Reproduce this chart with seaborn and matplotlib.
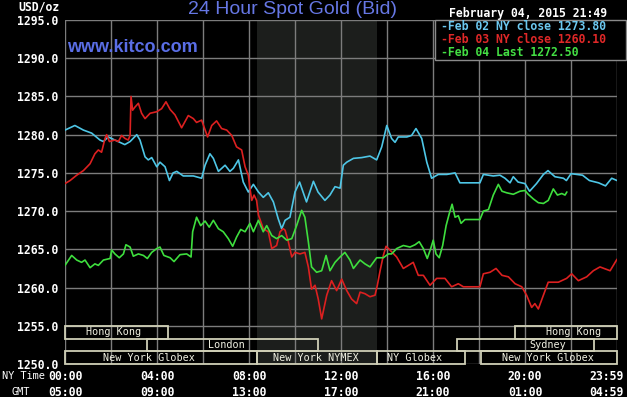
import matplotlib
matplotlib.use("Agg")
import matplotlib.pyplot as plt
import seaborn as sns
from matplotlib.patches import Rectangle
from matplotlib.transforms import blended_transform_factory

# ---------------------------------------------------------------------------
# Data (hours since 00:00 NY time)
# ---------------------------------------------------------------------------
FEB02_HOURS = [0.0, 0.43, 0.8, 1.16, 1.52, 1.67, 1.88, 2.17, 2.6, 2.83, 3.12, 3.26,
               3.48, 3.62, 3.77, 3.99, 4.13, 4.35, 4.54, 4.7, 4.86, 5.14, 5.58, 5.94,
               6.09, 6.3, 6.45, 6.67, 6.96, 7.17, 7.32, 7.54, 7.75, 7.97, 8.19, 8.41,
               8.62, 8.84, 9.06, 9.27, 9.42, 9.57, 9.78, 10.0, 10.2, 10.5, 10.8, 11.0,
               11.3, 11.52, 11.74, 11.96, 12.1, 12.25, 12.54, 12.9, 13.26, 13.55, 13.77,
               13.99, 14.2, 14.35, 14.49, 14.86, 15.07, 15.26, 15.51, 15.73, 15.94,
               16.23, 16.6, 16.96, 17.17, 17.6, 18.04, 18.19, 18.62, 18.91, 19.13,
               19.35, 19.49, 19.7, 20.0, 20.2, 20.5, 20.8, 21.0, 21.3, 21.67, 21.8,
               22.0, 22.5, 22.8, 23.2, 23.5, 23.77, 24.0]
FEB02_PRICE = [1280.6, 1281.2, 1280.6, 1280.2, 1279.3, 1279.1, 1279.7, 1279.3, 1278.7,
               1279.1, 1280.0, 1279.3, 1277.1, 1276.7, 1277.0, 1275.8, 1276.4, 1275.8,
               1274.0, 1275.0, 1275.2, 1274.6, 1274.6, 1274.3, 1276.0, 1277.5, 1276.9,
               1275.2, 1276.0, 1275.2, 1275.6, 1276.7, 1273.8, 1272.5, 1273.5, 1272.5,
               1271.8, 1272.4, 1271.2, 1269.0, 1267.7, 1268.8, 1269.2, 1272.5, 1273.8,
               1271.2, 1273.9, 1272.5, 1271.4, 1272.1, 1273.2, 1273.0, 1276.0, 1276.4,
               1276.9, 1277.0, 1277.2, 1276.7, 1278.4, 1281.2, 1279.5, 1279.0, 1279.7,
               1279.7, 1279.9, 1280.8, 1279.5, 1276.4, 1274.3, 1274.8, 1274.8, 1275.0,
               1273.7, 1273.7, 1273.7, 1274.8, 1274.6, 1274.7, 1274.3, 1273.7, 1274.5,
               1273.8, 1273.6, 1272.6, 1273.6, 1274.8, 1275.3, 1274.5, 1274.3, 1274.0,
               1274.9, 1274.7, 1274.0, 1273.7, 1273.3, 1274.3, 1274.0]

FEB03_HOURS = [0.0, 0.22, 0.51, 0.8, 1.09, 1.3, 1.45, 1.59, 1.74, 1.81, 1.93, 2.17,
               2.32, 2.46, 2.61, 2.75, 2.83, 2.87, 2.94, 3.04, 3.19, 3.33, 3.48, 3.7,
               3.99, 4.2, 4.39, 4.57, 4.78, 5.07, 5.36, 5.58, 5.72, 5.94, 6.2, 6.38,
               6.59, 6.81, 7.03, 7.25, 7.46, 7.68, 7.83, 7.97, 8.04, 8.12, 8.22, 8.33,
               8.41, 8.62, 8.84, 8.99, 9.2, 9.35, 9.49, 9.57, 9.71, 9.86, 10.0, 10.22,
               10.43, 10.58, 10.72, 10.87, 11.01, 11.16, 11.38, 11.59, 11.81, 12.03,
               12.25, 12.46, 12.68, 12.83, 13.04, 13.26, 13.48, 13.58, 13.7, 13.84,
               13.96, 14.13, 14.42, 14.71, 14.93, 15.14, 15.36, 15.58, 15.87, 16.16,
               16.52, 16.81, 17.1, 17.32, 17.75, 18.04, 18.19, 18.48, 18.74, 19.0,
               19.28, 19.57, 19.86, 20.07, 20.29, 20.43, 20.58, 20.8, 21.01, 21.45,
               21.81, 22.03, 22.32, 22.68, 22.97, 23.26, 23.7, 24.0]
FEB03_PRICE = [1273.6, 1274.0, 1274.7, 1275.3, 1276.2, 1277.5, 1278.0, 1277.7, 1279.5,
               1280.0, 1279.1, 1279.3, 1279.1, 1279.9, 1279.5, 1279.3, 1279.9, 1285.0,
               1283.2, 1283.6, 1284.1, 1282.8, 1282.1, 1282.8, 1283.0, 1283.4, 1284.3,
               1283.3, 1282.6, 1280.9, 1282.5, 1282.1, 1281.6, 1281.9, 1279.7, 1281.2,
               1281.8, 1280.8, 1280.6, 1279.9, 1278.4, 1278.0, 1275.8, 1274.7, 1273.0,
               1271.4, 1272.1, 1271.4, 1269.5, 1267.7, 1267.3, 1265.1, 1265.5, 1267.3,
               1267.7, 1267.5, 1266.0, 1264.0, 1264.6, 1264.4, 1264.6, 1262.7, 1259.8,
               1260.3, 1258.5, 1255.9, 1259.0, 1260.9, 1259.6, 1261.1, 1259.6, 1258.5,
               1257.9, 1259.4, 1259.2, 1258.8, 1259.0, 1260.3, 1262.2, 1264.2, 1265.4,
               1264.9, 1264.0, 1262.5, 1262.9, 1263.3, 1261.6, 1261.6, 1260.3, 1261.2,
               1261.2, 1260.1, 1260.5, 1260.1, 1260.1, 1260.1, 1261.8, 1262.0, 1262.5,
               1261.6, 1261.4, 1260.5, 1260.1, 1259.0, 1257.4, 1257.9, 1257.2, 1259.0,
               1260.7, 1260.7, 1261.2, 1261.8, 1260.9, 1261.4, 1262.2, 1262.7, 1262.2,
               1263.7]

FEB04_HOURS = [0.0, 0.29, 0.51, 0.72, 0.87, 1.09, 1.3, 1.45, 1.67, 1.96, 2.03, 2.17,
               2.36, 2.54, 2.65, 2.83, 2.97, 3.19, 3.41, 3.58, 3.77, 3.99, 4.13, 4.3,
               4.57, 4.74, 5.0, 5.29, 5.48, 5.55, 5.72, 5.9, 6.09, 6.27, 6.45, 6.67,
               6.88, 7.1, 7.29, 7.46, 7.64, 7.83, 8.04, 8.19, 8.41, 8.62, 8.77, 8.99,
               9.2, 9.42, 9.64, 9.86, 10.07, 10.29, 10.43, 10.58, 10.72, 10.94, 11.16,
               11.35, 11.52, 11.74, 11.96, 12.17, 12.39, 12.54, 12.83, 13.04, 13.26,
               13.55, 13.84, 14.06, 14.2, 14.42, 14.71, 15.0, 15.22, 15.4, 15.58, 15.75,
               15.9, 16.01, 16.13, 16.27, 16.42, 16.57, 16.71, 16.83, 16.96, 17.1,
               17.22, 17.39, 17.75, 18.04, 18.19, 18.41, 18.62, 18.84, 19.0, 19.2,
               19.49, 19.78, 20.0, 20.14, 20.36, 20.58, 20.8, 21.01, 21.23, 21.41,
               21.6, 21.74, 21.82]
FEB04_PRICE = [1262.9, 1264.2, 1263.6, 1263.3, 1263.6, 1262.6, 1263.1, 1262.9, 1263.6,
               1263.8, 1264.9, 1264.4, 1263.9, 1264.4, 1265.6, 1265.3, 1264.1, 1264.4,
               1264.2, 1263.8, 1264.6, 1265.1, 1265.3, 1264.2, 1263.9, 1263.4, 1264.3,
               1264.4, 1264.0, 1267.3, 1269.2, 1268.1, 1268.7, 1267.9, 1268.8, 1267.7,
               1267.3, 1266.4, 1265.4, 1266.6, 1267.6, 1267.3, 1268.4, 1267.3, 1268.8,
               1267.3, 1268.1, 1266.8, 1266.4, 1266.8, 1266.2, 1266.4, 1268.1, 1270.1,
               1269.2, 1266.0, 1262.7, 1262.0, 1262.2, 1264.2, 1262.2, 1263.3, 1264.0,
               1264.6, 1263.6, 1262.5, 1263.6, 1263.1, 1262.7, 1263.9, 1263.9, 1264.4,
               1264.4, 1265.1, 1265.5, 1265.3, 1265.6, 1266.0, 1265.1, 1263.8, 1265.1,
               1266.2, 1264.4, 1263.9, 1265.5, 1268.1, 1269.7, 1270.9, 1269.2, 1269.4,
               1268.4, 1268.9, 1268.9, 1268.9, 1270.0, 1270.2, 1272.1, 1273.5, 1272.6,
               1272.4, 1272.2, 1272.6, 1272.7, 1272.2, 1271.6, 1271.1, 1271.0, 1271.4,
               1272.9, 1272.1, 1272.3, 1272.1, 1272.5]

LEGEND_LABELS = ["Feb 02 NY close 1273.80", "Feb 03 NY close 1260.10", "Feb 04 Last 1272.50"]

# trading sessions shown as boxes at the bottom (hours NY time, row 0 = top)
SESSION_NAMES = ["Hong Kong", "London", "New York Globex", "New York NYMEX",
                 "NY Globex", "New York Globex", "Sydney", "Hong Kong"]
SESSION_START = [0.0, 3.55, 0.0, 8.35, 13.57, 18.08, 17.03, 19.57]
SESSION_END = [4.48, 11.0, 8.35, 13.57, 17.4, 24.0, 23.0, 24.0]
SESSION_ROW = [0, 1, 2, 2, 2, 2, 1, 0]
NYMEX_HOURS = (8.35, 13.57)

NY_TICKS = ["00:00", "04:00", "08:00", "12:00", "16:00", "20:00", "23:59"]
GMT_TICKS = ["05:00", "09:00", "13:00", "17:00", "21:00", "01:00", "04:59"]
TICK_HOURS = [0, 4, 8, 12, 16, 20, 24]

# ---------------------------------------------------------------------------
# Style / layout
# ---------------------------------------------------------------------------
W, H = 627, 397
BLUE, RED, GREEN = "#4ec6e6", "#dc2020", "#3ede3e"
LEG_COLORS = ["#6cc8f0", "#e02828", "#44e044"]
TITLE_BLUE = "#6677e4"
MONO = "DejaVu Sans Mono"
BOX_EDGE = "#cfcfb6"
# where kitco puts each session name (hours), not always the box centre
SESSION_LABEL_AT = [2.13, 7.0, 3.65, 10.9, 15.2, 21.0, 21.0, 22.1]

sns.set_style("dark")
plt.rcParams["font.family"] = ["DejaVu Sans"]

fig = plt.figure(figsize=(W / 100, H / 100), dpi=100, facecolor="black")
ax = fig.add_axes([65 / W, 33 / H, 552 / W, 344 / H])
ax.set_facecolor("black")

ax.axvspan(*NYMEX_HOURS, color="#1c1e1c", zorder=0.1, lw=0)

for hours, price, color in [(FEB02_HOURS, FEB02_PRICE, BLUE),
                            (FEB03_HOURS, FEB03_PRICE, RED),
                            (FEB04_HOURS, FEB04_PRICE, GREEN)]:
    sns.lineplot(x=hours, y=price, ax=ax, color=color, linewidth=1.2, zorder=3)

ax.set_xlim(0, 24)
ax.set_ylim(1250, 1295)
ax.set_xticks(range(0, 25, 2))
ax.set_xticklabels([])
ax.set_yticks(range(1250, 1296, 5))
ax.set_yticklabels([f"{v:.1f}" for v in range(1250, 1296, 5)],
                   fontfamily=MONO, fontweight="bold", fontsize=8.3, color="white")
ax.tick_params(length=0, pad=5)
ax.grid(True, color="#7c7c7c", linewidth=1.0, zorder=1)
ax.set_axisbelow(True)
ax.set_xlabel("")
ax.set_ylabel("")
for sp in ax.spines.values():
    sp.set_visible(False)

# session boxes
row_h = 5 / 3
for name, s, e, r, lx in zip(SESSION_NAMES, SESSION_START, SESSION_END,
                             SESSION_ROW, SESSION_LABEL_AT):
    y0 = 1255 - (r + 1) * row_h
    ax.add_patch(Rectangle((s, y0), e - s, row_h, fill=False, edgecolor=BOX_EDGE,
                           linewidth=1.3, zorder=4, clip_on=False))
    ax.text(lx, y0 + row_h / 2, name, ha="center", va="center",
            fontfamily=MONO, fontsize=7.3, color="#f0f0e2", zorder=5)

# time labels
tr = blended_transform_factory(ax.transData, fig.transFigure)
for h, ny, gmt in zip(TICK_HOURS, NY_TICKS, GMT_TICKS):
    ha = "right" if h == 24 else "center"
    dx = 0.3 if h == 24 else 0
    ax.text(h + dx, 1 - 376 / H, ny, transform=tr, ha=ha, va="center",
            fontfamily=MONO, fontweight="bold", fontsize=8.3, color="white", clip_on=False)
    ax.text(h + dx, 1 - 392 / H, gmt, transform=tr, ha=ha, va="center",
            fontfamily=MONO, fontweight="bold", fontsize=8.3, color="white", clip_on=False)

fig.text(2 / W, 1 - 376 / H, "NY Time", ha="left", va="center",
         fontfamily=MONO, fontsize=7.4, color="white")
fig.text(21 / W, 1 - 392 / H, "GMT", ha="center", va="center",
         fontfamily=MONO, fontsize=7.4, color="white")
fig.text(60 / W, 1 - 7 / H, "USD/oz", ha="right", va="center",
         fontfamily=MONO, fontweight="bold", fontsize=8.3, color="white")

# titles
fig.text(293 / W, 1 - 9 / H, "24 Hour Spot Gold (Bid)", ha="center", va="center",
         fontfamily="Liberation Sans", fontsize=14, color=TITLE_BLUE)
fig.text(67 / W, 1 - 47 / H, "www.kitco.com", ha="left", va="center",
         fontfamily="Liberation Sans", fontweight="bold", fontsize=13, color="#5a6ee6")
fig.text(607 / W, 1 - 13 / H, "February 04, 2015 21:49", ha="right", va="center",
         fontfamily=MONO, fontweight="bold", fontsize=8.3, color="white")

# legend box
fig.patches.append(Rectangle((435 / W, 1 - 60 / H), 191 / W, 40 / H,
                             transform=fig.transFigure, facecolor="black",
                             edgecolor="#8a8a8a", linewidth=1.0, zorder=5))
for i, (lab, col) in enumerate(zip(LEGEND_LABELS, LEG_COLORS)):
    fig.text(441 / W, 1 - (27 + 12.5 * i) / H, "-" + lab, ha="left", va="center",
             fontfamily=MONO, fontweight="bold", fontsize=8.3, color=col, zorder=6)

fig.savefig("out.png", dpi=100, facecolor="black")
